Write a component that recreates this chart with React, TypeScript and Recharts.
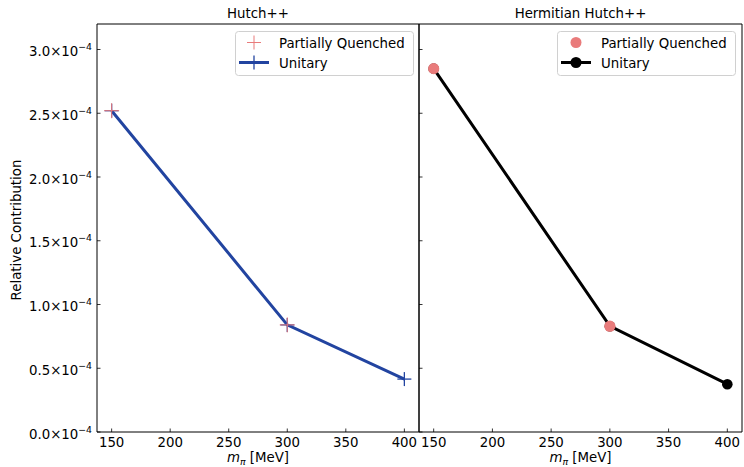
import React from "react";
import { LineChart, Line, XAxis, YAxis, ReferenceArea, Legend } from "recharts";

// pion masses (MeV)
const mpi = [150, 300, 400];

// Hutch++ panel
const hutchPQ = [2.52e-4, 0.84e-4, null];
const hutchUnitary = [2.52e-4, 0.84e-4, 0.415e-4];

// Hermitian Hutch++ panel
const hermPQ = [2.85e-4, 0.83e-4, null];
const hermUnitary = [2.85e-4, 0.83e-4, 0.375e-4];

const xTicks = [150, 200, 250, 300, 350, 400];
const yTicks = [0, 0.5e-4, 1.0e-4, 1.5e-4, 2.0e-4, 2.5e-4, 3.0e-4];
const xDomain = [137.5, 412.5];
const yDomain = [0, 3.2e-4];

const FONT = "'DejaVu Sans', sans-serif";
const FS = 13.33;
const PINK = "#e97b7b";
const BLUE = "#2244a0";

const hutchData = mpi.map((m, i) => ({ m, pq: hutchPQ[i], unitary: hutchUnitary[i] }));
const hermData = mpi.map((m, i) => ({ m, pq: hermPQ[i], unitary: hermUnitary[i] }));

function XTick(props: any) {
  const { x, y, payload } = props;
  return (
    <g>
      <line x1={x} x2={x} y1={y} y2={y - 3.5} stroke="#000" strokeWidth={0.8} />
      <text x={x} y={y + 14.5} textAnchor="middle" fontSize={FS} fill="#000" fontFamily={FONT}>
        {payload.value}
      </text>
    </g>
  );
}

function YTick(props: any) {
  const { x, y, payload, showLabel } = props;
  const v = (payload.value / 1e-4).toFixed(1);
  return (
    <g>
      <line x1={x} x2={x + 3.5} y1={y} y2={y} stroke="#000" strokeWidth={0.8} />
      {showLabel && (
        <text x={x - 5} y={y + 6.5} textAnchor="end" fontSize={FS} fill="#000" fontFamily={FONT}>
          {v}×10
          <tspan fontSize={9.3} dy={-6}>
            −4
          </tspan>
        </text>
      )}
    </g>
  );
}

const plusDot = (color: string, half: number, w: number) => (props: any) => {
  const { cx, cy, index } = props;
  if (cx == null || cy == null) return <g key={index} />;
  return (
    <g key={index}>
      <line x1={cx - half} x2={cx + half} y1={cy} y2={cy} stroke={color} strokeWidth={w} />
      <line x1={cx} x2={cx} y1={cy - half} y2={cy + half} stroke={color} strokeWidth={w} />
    </g>
  );
};

type Row = { name: string; color: string; marker: "plus" | "dot"; line: boolean };

function LegendBox({ rows }: { rows: Row[] }) {
  return (
    <svg width={179} height={45} style={{ display: "block" }}>
      <rect x={0.5} y={0.5} width={178} height={44} rx={3} fill="#fff" fillOpacity={0.8} stroke="#d0d0d0" />
      {rows.map((r, i) => {
        const cy = 11.5 + i * 20;
        return (
          <g key={r.name}>
            {r.line && <line x1={4} x2={34} y1={cy} y2={cy} stroke={r.color} strokeWidth={3} />}
            {r.marker === "plus" ? (
              <g>
                <line x1={12} x2={26} y1={cy} y2={cy} stroke={r.color} strokeWidth={r.line ? 1.3 : 1} />
                <line x1={19} x2={19} y1={cy - 7} y2={cy + 7} stroke={r.color} strokeWidth={r.line ? 1.3 : 1} />
              </g>
            ) : (
              <circle cx={19} cy={cy} r={5.5} fill={r.color} />
            )}
            <text x={44} y={cy + 5} fontSize={FS} fill="#000" fontFamily={FONT}>
              {r.name}
            </text>
          </g>
        );
      })}
    </svg>
  );
}

function Panel(props: {
  left: number;
  width: number;
  yWidth: number;
  showYLabels: boolean;
  title: string;
  data: any[];
  legendLeft: number;
  kind: "plus" | "dot";
}) {
  const { left, width, yWidth, showYLabels, title, data, legendLeft, kind } = props;
  const unitaryColor = kind === "plus" ? BLUE : "#000";
  const rows: Row[] = [
    { name: "Partially Quenched", color: PINK, marker: kind, line: false },
    { name: "Unitary", color: unitaryColor, marker: kind, line: true },
  ];
  return (
    <div style={{ position: "absolute", left, top: 0 }}>
      <LineChart width={width} height={467} data={data} margin={{ top: 24, right: left === 0 ? 1 : 2, left: 0, bottom: 0 }}>
        <XAxis
          dataKey="m"
          type="number"
          domain={xDomain}
          ticks={xTicks}
          allowDataOverflow
          height={35}
          axisLine={false}
          tickLine={false}
          tickSize={0}
          tickMargin={0}
          tick={(p: any) => <XTick {...p} />}
          label={{
            content: (lp: any) => {
              const vb = lp.viewBox;
              return (
                <text x={vb.x + vb.width / 2} y={vb.y + 30} textAnchor="middle" fontSize={FS} fill="#000" fontFamily={FONT}>
                  <tspan fontStyle="italic">m</tspan>
                  <tspan fontStyle="italic" fontSize={9.3} dy={3}>π</tspan>
                  <tspan dy={-3}> [MeV]</tspan>
                </text>
              );
            },
          }}
        />
        <YAxis
          type="number"
          domain={yDomain}
          ticks={yTicks}
          allowDataOverflow
          width={yWidth}
          axisLine={false}
          tickLine={false}
          tickSize={0}
          tickMargin={0}
          tick={(p: any) => <YTick {...p} showLabel={showYLabels} />}
          label={
            showYLabels
              ? {
                  content: () => (
                    <text transform="translate(21,230) rotate(-90)" textAnchor="middle" fontSize={FS} fill="#000" fontFamily={FONT}>
                      Relative Contribution
                    </text>
                  ),
                }
              : undefined
          }
        />
        <ReferenceArea
          x1={xDomain[0]}
          x2={xDomain[1]}
          y1={yDomain[0]}
          y2={yDomain[1]}
          fill="none"
          fillOpacity={0}
          stroke="#000"
          strokeWidth={1}
          label={{
            content: (lp: any) => {
              const vb = lp.viewBox;
              return (
                <text x={vb.x + vb.width / 2} y={vb.y - 6} textAnchor="middle" fontSize={FS} fill="#000" fontFamily={FONT}>
                  {title}
                </text>
              );
            },
          }}
        />
        <Legend
          layout="vertical"
          align="center"
          verticalAlign="middle"
          wrapperStyle={{ position: "absolute", left: legendLeft, top: 31, width: 179, height: 45 }}
          content={() => <LegendBox rows={rows} />}
        />
        <Line
          dataKey="unitary"
          name="Unitary"
          stroke={unitaryColor}
          strokeWidth={3}
          isAnimationActive={false}
          dot={kind === "plus" ? plusDot(BLUE, 7, 1.3) : { r: 5.3, fill: "#000", stroke: "#000", strokeWidth: 0 }}
          activeDot={false}
        />
        <Line
          dataKey="pq"
          name="Partially Quenched"
          stroke="none"
          strokeWidth={0}
          isAnimationActive={false}
          dot={kind === "plus" ? plusDot(PINK, 7.5, 1) : { r: 5.6, fill: PINK, stroke: PINK, strokeWidth: 0 }}
          activeDot={false}
        />
      </LineChart>
    </div>
  );
}

export default function App() {
  return (
    <div style={{ position: "absolute", left: 0, top: 0, width: 744, height: 467, background: "#fff", fontFamily: FONT }}>
      <Panel left={0} width={420} yWidth={97} showYLabels title="Hutch++" data={hutchData} legendLeft={235} kind="plus" />
      <Panel left={400} width={344} yWidth={19} showYLabels={false} title="Hermitian Hutch++" data={hermData} legendLeft={157} kind="dot" />
    </div>
  );
}
